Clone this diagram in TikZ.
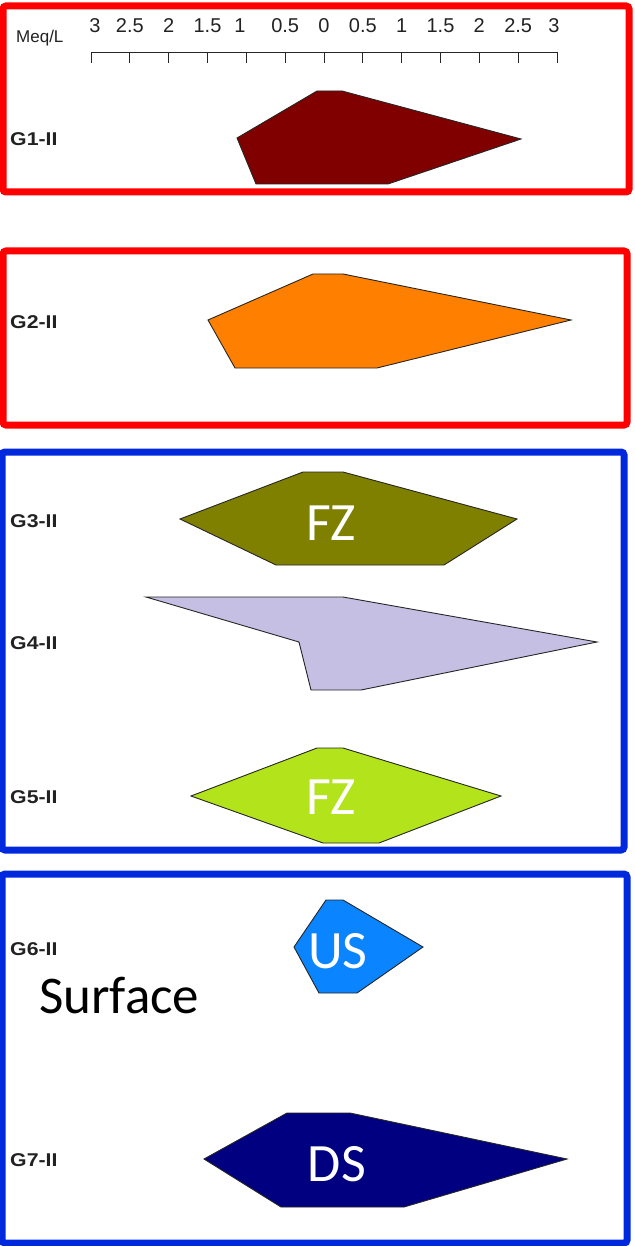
\documentclass[tikz,border=0pt]{standalone}
\usepackage{fontspec}
\setmainfont{Liberation Sans}
\newfontfamily\calfont{Carlito}
\definecolor{boxred}{HTML}{FF0000}
\definecolor{boxblue}{HTML}{0028DC}
\definecolor{cGone}{HTML}{800000}
\definecolor{cGtwo}{HTML}{FF8000}
\definecolor{cGthree}{HTML}{808000}
\definecolor{cGfour}{HTML}{C6BFE4}
\definecolor{cGfive}{HTML}{B3E31B}
\definecolor{cGsix}{HTML}{0A84FF}
\definecolor{cGseven}{HTML}{000080}
\definecolor{txt}{HTML}{222222}
\tikzset{
  frame/.style={line width=7pt, rounded corners=3pt},
  poly/.style={draw=black!85, line width=0.9pt, line join=miter},
  glabel/.style={anchor=base west, inner sep=0pt, font=\fontsize{18.5}{20}\selectfont\bfseries, text=txt},
  ticklab/.style={anchor=base, inner sep=0pt, font=\fontsize{20}{22}\selectfont, text=txt},
  inlab/.style={anchor=base, inner sep=0pt, font=\calfont\fontsize{54}{60}\selectfont, text=white},
}
\begin{document}
\begin{tikzpicture}[x=1pt, y=-1pt]
\useasboundingbox (0,0) rectangle (634,1246);
\fill[white] (0,0) rectangle (634,1246);

% frames
\draw[frame, boxred] (3,6) rectangle (629,192);
\draw[frame, boxred] (3,251) rectangle (627,425);
\draw[frame, boxblue] (2,452) rectangle (624,850);
\draw[frame, boxblue] (2,874) rectangle (627,1243);

% axis
\node[anchor=base west, inner sep=0pt, font=\fontsize{17}{19}\selectfont, text=txt] (meq) at (16,43) {Meq/L};
\draw[line width=0.9pt, black!85] (91,52) -- (557,52);
\foreach \i in {0,...,12} {
  \draw[line width=0.9pt, black!85] ({91+\i*38.833},52) -- ({91+\i*38.833},63);
}
\node[ticklab] (t0) at (95,33) {3};
\node[ticklab] (t1) at (129.8,33) {2.5};
\node[ticklab] (t2) at (168.7,33) {2};
\node[ticklab] (t3) at (207.5,33) {1.5};
\node[ticklab] (t4) at (240,33) {1};
\node[ticklab] (t5) at (285.2,33) {0.5};
\node[ticklab] (t6) at (324,33) {0};
\node[ticklab] (t7) at (362.8,33) {0.5};
\node[ticklab] (t8) at (401.7,33) {1};
\node[ticklab] (t9) at (440.5,33) {1.5};
\node[ticklab] (t10) at (479.3,33) {2};
\node[ticklab] (t11) at (518.2,33) {2.5};
\node[ticklab] (t12) at (554,33) {3};

% polygons
\draw[poly, fill=cGone] (317,91) -- (342,91) -- (521,139) -- (388,184) -- (256,184) -- (237,138) -- cycle;
\draw[poly, fill=cGtwo] (313,274) -- (343,274) -- (571,320) -- (377,368) -- (235,368) -- (208,320) -- cycle;
\draw[poly, fill=cGthree] (303,472) -- (343,472) -- (517,519) -- (444,565) -- (276,565) -- (180,519) -- cycle;
\draw[poly, fill=cGfour] (146,597) -- (343,597) -- (597,642) -- (361,690) -- (311,690) -- (299,642) -- cycle;
\draw[poly, fill=cGfive] (317,748) -- (343,748) -- (501,796) -- (379,843) -- (323,843) -- (191,796) -- cycle;
\draw[poly, fill=cGsix] (326,900) -- (343,900) -- (423,947) -- (357,993) -- (319,993) -- (294,947) -- cycle;
\draw[poly, fill=cGseven] (287,1113) -- (350,1113) -- (567,1159) -- (404,1207) -- (281,1207) -- (204,1159) -- cycle;

% group labels
\node[glabel] (g1) at (10,146) {\scalebox{1.15}[1]{G1-II}};
\node[glabel] (g2) at (10,328) {\scalebox{1.15}[1]{G2-II}};
\node[glabel] (g3) at (10,527) {\scalebox{1.15}[1]{G3-II}};
\node[glabel] (g4) at (10,649) {\scalebox{1.15}[1]{G4-II}};
\node[glabel] (g5) at (10,803) {\scalebox{1.15}[1]{G5-II}};
\node[glabel] (g6) at (10,955) {\scalebox{1.15}[1]{G6-II}};
\node[glabel] (g7) at (10,1166) {\scalebox{1.15}[1]{G7-II}};

% inner labels
\node[inlab] (fz1) at (331,540) {FZ};
\node[inlab] (fz2) at (331,814) {FZ};
\node[inlab] (us) at (338,968) {US};
\node[inlab] (ds) at (337,1181) {DS};
\node[anchor=base west, inner sep=0pt, font=\calfont\fontsize{53}{60}\selectfont, text=black] (surf) at (39,1013) {Surface};
\end{tikzpicture}
\end{document}
